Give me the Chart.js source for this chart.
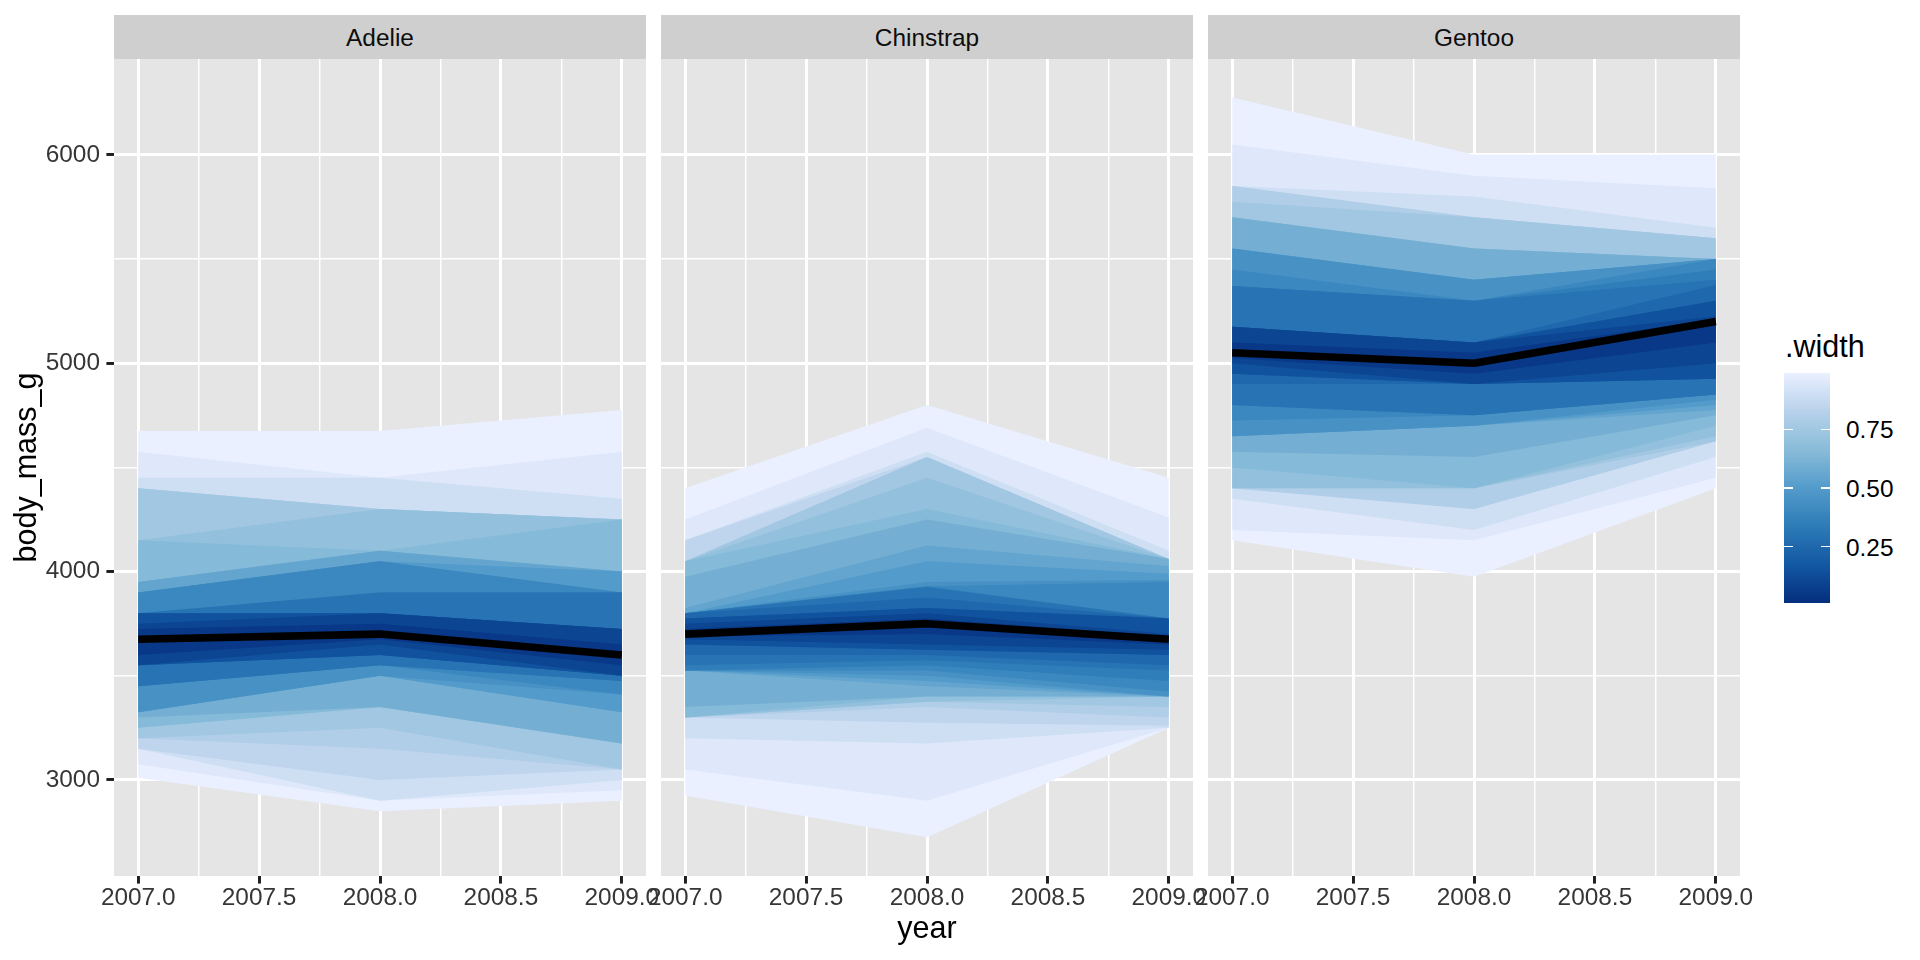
<!DOCTYPE html>
<html>
<head>
<meta charset="utf-8">
<script src="https://cdn.jsdelivr.net/npm/chart.js@4.4.0/dist/chart.umd.min.js"></script>
<style>
html,body{margin:0;padding:0;background:#ffffff;width:1920px;height:960px;overflow:hidden;
  font-family:"Liberation Sans",Arial,Helvetica,sans-serif;}
canvas{position:absolute;}
.strip{position:absolute;top:15px;height:44.3px;line-height:46px;background:#CFCFCF;color:#0D0D0D;
  font-size:24.4px;text-align:center;overflow:visible;}
.legTitle{position:absolute;left:1785px;top:328px;height:36px;line-height:36px;font-size:30.5px;color:#000;}
.legLab{position:absolute;left:1846px;height:30px;line-height:30px;font-size:24.4px;color:#000;}
.legBar{position:absolute;left:1784px;top:373px;width:46px;height:230px;}
.legTick{position:absolute;height:1.5px;background:#ffffff;}
</style>
</head>
<body>
<script>
// ---------------- data ----------------
const years = [2007, 2008, 2009];
const species = ['Adelie', 'Chinstrap', 'Gentoo'];
const widths = [0.05,0.10,0.15,0.20,0.25,0.30,0.35,0.40,0.45,0.50,0.55,0.60,0.65,0.70,0.75,0.80,0.85,0.90,0.95,0.99];
const xTicks = [2007, 2007.25, 2007.5, 2007.75, 2008, 2008.25, 2008.5, 2008.75, 2009];
const xMajor = [2007, 2007.5, 2008, 2008.5, 2009];
const yTicks = [3000, 3500, 4000, 4500, 5000, 5500, 6000];
const yMajor = [3000, 4000, 5000, 6000];
const legendTicks = [0.25, 0.50, 0.75];

const adelieMedian = [3675, 3700, 3600];
const adelieUpper2007 = [3725,3750,3800,3800,3800,3800,3800,3900,3900,3900,3950,3950,4150,4150,4400,4400,4400,4450,4575,4675];
const adelieLower2007 = [3600,3550,3550,3550,3550,3450,3450,3450,3325,3325,3325,3300,3250,3250,3200,3200,3150,3150,3075,3010];
const adelieUpper2008 = [3750,3800,3800,3800,3800,3900,3900,4050,4050,4050,4100,4100,4100,4300,4300,4300,4300,4450,4450,4675];
const adelieLower2008 = [3675,3650,3600,3600,3600,3550,3550,3550,3500,3500,3500,3350,3350,3350,3250,3150,3000,2900,2900,2850];
const adelieUpper2009 = [3650,3725,3725,3725,3725,3900,3900,3900,3900,4000,4000,4000,4250,4250,4250,4250,4250,4350,4575,4775];
const adelieLower2009 = [3550,3500,3500,3500,3500,3475,3475,3410,3410,3325,3325,3175,3175,3175,3050,3050,3050,3000,2950,2900];

const chinstrapMedian = [3700, 3750, 3675];
const chinstrapUpper2007 = [3725,3750,3775,3775,3800,3800,3800,3800,3800,3800,3825,3975,4050,4050,4050,4050,4150,4150,4250,4400];
const chinstrapLower2007 = [3690,3675,3650,3650,3600,3550,3525,3525,3525,3525,3525,3350,3300,3300,3300,3300,3300,3200,3050,2925];
const chinstrapUpper2008 = [3775,3800,3825,3825,3875,3925,3930,3930,3950,4050,4125,4250,4300,4450,4550,4550,4550,4575,4690,4800];
const chinstrapLower2008 = [3700,3650,3625,3625,3600,3575,3550,3525,3500,3475,3450,3400,3400,3375,3375,3350,3275,3175,2900,2725];
const chinstrapUpper2009 = [3690,3700,3775,3775,3775,3775,3775,3950,3960,3990,4025,4060,4060,4060,4060,4060,4060,4100,4260,4450];
const chinstrapLower2009 = [3650,3625,3600,3600,3550,3525,3475,3425,3400,3400,3400,3400,3400,3400,3350,3300,3260,3250,3250,3250];

const gentooMedian = [5050, 5000, 5200];
const gentooUpper2007 = [5100,5175,5175,5175,5175,5370,5370,5450,5550,5550,5550,5700,5700,5700,5775,5850,5850,5850,6050,6275];
const gentooLower2007 = [5025,5000,4950,4950,4900,4800,4800,4725,4650,4650,4650,4575,4500,4400,4400,4400,4400,4350,4200,4150];
const gentooUpper2008 = [5050,5100,5100,5100,5100,5300,5300,5300,5400,5400,5400,5550,5550,5550,5700,5700,5700,5800,5900,6000];
const gentooLower2008 = [4950,4900,4900,4900,4900,4750,4750,4750,4700,4700,4700,4550,4400,4400,4400,4300,4300,4200,4150,3975];
const gentooUpper2009 = [5210,5225,5300,5300,5375,5400,5450,5500,5500,5500,5500,5500,5500,5500,5600,5600,5600,5650,5840,6000];
const gentooLower2009 = [5100,5000,4925,4925,4925,4850,4850,4850,4825,4800,4775,4750,4700,4650,4625,4625,4625,4550,4450,4400];

const bluesPalette = ['#084594','#2171B5','#4292C6','#6BAED6','#9ECAE1','#C6DBEF','#EFF3FF'];
const widthMin = 0.01, widthMax = 0.99;
const displayGamma = 1.3;

// ---------------- colour scale (Lab interpolation) ----------------
function hex2rgb(h){return [parseInt(h.slice(1,3),16),parseInt(h.slice(3,5),16),parseInt(h.slice(5,7),16)];}
function s2l(c){c/=255;return c<=0.04045?c/12.92:Math.pow((c+0.055)/1.055,2.4);}
function l2s(c){const v=c<=0.0031308?12.92*c:1.055*Math.pow(c,1/2.4)-0.055;return Math.max(0,Math.min(1,v))*255;}
function rgb2lab(rgb){const R=s2l(rgb[0]),G=s2l(rgb[1]),B=s2l(rgb[2]);
  const X=(0.4124564*R+0.3575761*G+0.1804375*B)/0.95047,Y=(0.2126729*R+0.7151522*G+0.0721750*B),Z=(0.0193339*R+0.1191920*G+0.9503041*B)/1.08883;
  const f=t=>t>0.008856?Math.cbrt(t):(7.787*t+16/116);
  const fx=f(X),fy=f(Y),fz=f(Z);return [116*fy-16,500*(fx-fy),200*(fy-fz)];}
function lab2rgb(lab){const fy=(lab[0]+16)/116,fx=fy+lab[1]/500,fz=fy-lab[2]/200;
  const fi=t=>t*t*t>0.008856?t*t*t:(t-16/116)/7.787;
  const X=fi(fx)*0.95047,Y=fi(fy),Z=fi(fz)*1.08883;
  return [l2s(3.2404542*X-1.5371385*Y-0.4985314*Z),l2s(-0.9692660*X+1.8760108*Y+0.0415560*Z),l2s(0.0556434*X-0.2040259*Y+1.0572252*Z)];}
const paletteLab = bluesPalette.map(h=>rgb2lab(hex2rgb(h)));
function colorFor(w){
  let t=(w-widthMin)/(widthMax-widthMin); t=Math.max(0,Math.min(1,t));
  const p=t*(paletteLab.length-1); let i=Math.floor(p); if(i>=paletteLab.length-1) i=paletteLab.length-2;
  const f=p-i, a=paletteLab[i], b=paletteLab[i+1];
  const c=lab2rgb([a[0]+(b[0]-a[0])*f,a[1]+(b[1]-a[1])*f,a[2]+(b[2]-a[2])*f])
          .map(v=>Math.round(255*Math.pow(v/255, displayGamma)));
  return 'rgb('+c[0]+','+c[1]+','+c[2]+')';
}

// ---------------- layout ----------------
Chart.defaults.font.family = "'Liberation Sans', Arial, Helvetica, sans-serif";
const PANEL_W = 532, PANEL_TOP = 59, PANEL_BOTTOM = 876;
const panelLefts = [114, 661, 1208];
const AXIS_W = 114, PAD_R = 40, PAD_T = 30;
const CANVAS_TOP = PANEL_TOP - PAD_T;
const X_AXIS_H = 960 - PANEL_BOTTOM;
const CANVAS_H = 960 - CANVAS_TOP;
const CANVAS_W = AXIS_W + PANEL_W + PAD_R;

const panelBg = {
  id: 'panelBg',
  beforeDraw(chart){
    const a = chart.chartArea, ctx = chart.ctx;
    ctx.save(); ctx.fillStyle = '#E5E5E5';
    ctx.fillRect(a.left, a.top, a.right - a.left, a.bottom - a.top);
    ctx.restore();
  }
};

function makePanel(k, med, ups, lows){
  const strip = document.createElement('div');
  strip.className = 'strip';
  strip.style.left = panelLefts[k] + 'px';
  strip.style.width = PANEL_W + 'px';
  strip.textContent = species[k];
  document.body.appendChild(strip);

  const cv = document.createElement('canvas');
  cv.width = CANVAS_W; cv.height = CANVAS_H;
  cv.style.left = (panelLefts[k] - AXIS_W) + 'px';
  cv.style.top = CANVAS_TOP + 'px';
  cv.style.width = CANVAS_W + 'px'; cv.style.height = CANVAS_H + 'px';
  document.body.appendChild(cv);

  const datasets = [{
    data: years.map((x,j)=>({x:x, y:med[j]})),
    borderColor:'#000000', borderWidth:7.6, pointRadius:0, fill:false,
    borderJoinStyle:'round', borderCapStyle:'butt'
  }];
  widths.forEach((w,i)=>{
    datasets.push({
      data: years.map((x,j)=>({x:x, y:ups[j][i]})),
      borderColor:'rgba(0,0,0,0)', borderWidth:0, pointRadius:0,
      backgroundColor: colorFor(w), fill:'+1'
    });
    datasets.push({
      data: years.map((x,j)=>({x:x, y:lows[j][i]})),
      borderColor:'rgba(0,0,0,0)', borderWidth:0, pointRadius:0, fill:false
    });
  });

  const isMajX = v => xMajor.indexOf(v) >= 0;
  const isMajY = v => yMajor.indexOf(v) >= 0;

  new Chart(cv, {
    type: 'line',
    data: { datasets: datasets },
    plugins: [panelBg],
    options: {
      responsive: false, animation: false, events: [],
      layout: { padding: { left: 0, right: PAD_R, top: PAD_T, bottom: 0 } },
      elements: { line: { tension: 0 } },
      plugins: { legend: { display: false }, tooltip: { enabled: false } },
      scales: {
        x: {
          type: 'linear', min: 2006.9, max: 2009.1,
          afterBuildTicks: s => { s.ticks = xTicks.map(v => ({ value: v })); },
          afterFit: s => { s.height = X_AXIS_H; },
          border: { display: false },
          grid: {
            color: '#FFFFFF',
            lineWidth: c => (c.tick && isMajX(c.tick.value)) ? 2.96 : 1.48,
            drawTicks: true, tickLength: 7.6,
            tickColor: c => (c.tick && isMajX(c.tick.value)) ? '#1F1F1F' : 'rgba(0,0,0,0)',
            tickWidth: 2.96
          },
          ticks: {
            autoSkip: false, maxRotation: 0, minRotation: 0, padding: 0,
            color: '#363636', font: { size: 24.4 },
            callback: v => isMajX(v) ? Number(v).toFixed(1) : ''
          },
          title: k === 1 ? { display: true, text: 'year', color: '#000000',
                             font: { size: 30.5 }, padding: { top: 0, bottom: 12.2 } }
                         : { display: false }
        },
        y: {
          type: 'linear', min: 2539, max: 6460,
          afterBuildTicks: s => { s.ticks = yTicks.map(v => ({ value: v })); },
          afterFit: s => { s.width = AXIS_W; },
          border: { display: false },
          grid: {
            color: '#FFFFFF',
            lineWidth: c => (c.tick && isMajY(c.tick.value)) ? 2.96 : 1.48,
            drawTicks: k === 0, tickLength: 7.6,
            tickColor: c => (c.tick && isMajY(c.tick.value)) ? '#1F1F1F' : 'rgba(0,0,0,0)',
            tickWidth: 2.96
          },
          ticks: {
            display: k === 0, padding: 6.4, color: '#363636', font: { size: 24.4 },
            callback: v => isMajY(v) ? String(v) : ''
          },
          title: k === 0 ? { display: true, text: 'body_mass_g', color: '#000000',
                             font: { size: 30.5 }, padding: { top: 9.2, bottom: 0 } }
                         : { display: false }
        }
      }
    }
  });
}

makePanel(0, adelieMedian, [adelieUpper2007, adelieUpper2008, adelieUpper2009], [adelieLower2007, adelieLower2008, adelieLower2009]);
makePanel(1, chinstrapMedian, [chinstrapUpper2007, chinstrapUpper2008, chinstrapUpper2009], [chinstrapLower2007, chinstrapLower2008, chinstrapLower2009]);
makePanel(2, gentooMedian, [gentooUpper2007, gentooUpper2008, gentooUpper2009], [gentooLower2007, gentooLower2008, gentooLower2009]);

// ---------------- colourbar legend ----------------
(function(){
  const barTop = 373, barH = 230, barLeft = 1784, barW = 46;
  const title = document.createElement('div');
  title.className = 'legTitle'; title.textContent = '.width';
  document.body.appendChild(title);
  const bar = document.createElement('div');
  bar.className = 'legBar';
  const stops = [];
  for (let i = 0; i <= 40; i++) {
    const w = widthMin + (widthMax - widthMin) * i / 40;
    stops.push(colorFor(w) + ' ' + (i / 40 * 100).toFixed(2) + '%');
  }
  bar.style.background = 'linear-gradient(to top, ' + stops.join(', ') + ')';
  document.body.appendChild(bar);
  legendTicks.forEach(v => {
    const y = barTop + (widthMax - v) / (widthMax - widthMin) * barH;
    [barLeft, barLeft + barW - 9.2].forEach(x => {
      const t = document.createElement('div');
      t.className = 'legTick';
      t.style.left = x + 'px'; t.style.width = '9.2px'; t.style.top = (y - 0.75) + 'px';
      document.body.appendChild(t);
    });
    const lab = document.createElement('div');
    lab.className = 'legLab';
    lab.style.top = (y - 13.95) + 'px';
    lab.textContent = v.toFixed(2);
    document.body.appendChild(lab);
  });
})();
</script>
</body>
</html>
